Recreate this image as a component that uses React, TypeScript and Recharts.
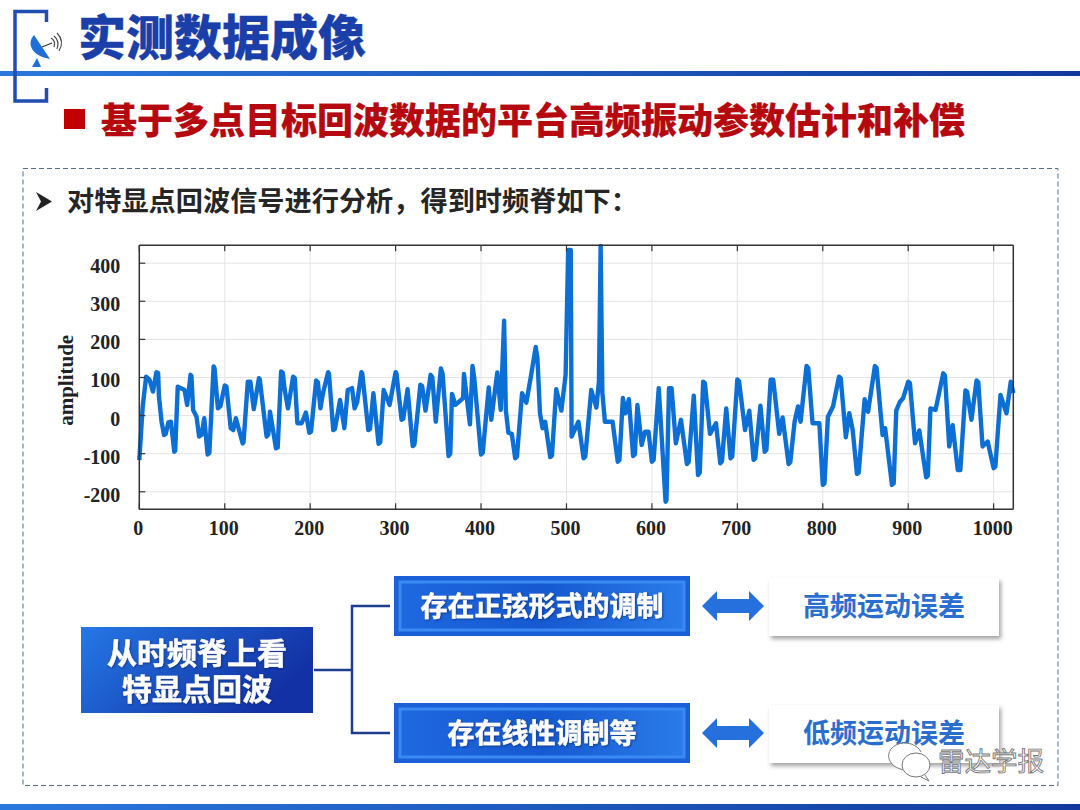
import React from 'react';
import { LineChart, Line, XAxis, YAxis, CartesianGrid } from 'recharts';

const sampleIndex = [0,4,8,12,16,20,22,23,26,29,31,34,37,41,42,45,53,56,60,61,63,67,70,73,76,80,82,87,88,92,95,100,102,107,110,113,121,122,127,130,134,140,141,149,151,153,160,162,166,168,170,174,180,182,185,190,195,199,201,207,209,212,215,221,222,227,229,235,240,244,249,252,255,260,261,268,270,274,280,282,286,293,300,301,307,309,314,320,322,329,331,335,341,343,347,353,355,362,364,366,370,379,380,387,390,392,400,402,409,412,419,423,427,429,432,436,440,442,448,453,458,464,466,469,472,475,481,483,488,494,499,502,505,506,514,520,522,529,535,538,540,542,545,554,560,562,566,569,573,578,580,583,588,592,596,600,602,608,616,617,620,623,628,634,641,643,649,654,656,660,662,668,675,680,682,687,692,694,700,702,709,714,719,721,727,732,734,739,742,749,753,760,762,767,771,774,781,783,788,796,800,802,806,812,819,821,827,831,835,840,842,849,853,861,863,870,873,881,883,886,890,894,900,902,908,913,921,923,926,932,941,943,948,952,958,961,967,969,974,980,982,987,993,1000,1002,1008,1015,1020,1023];
const amplitude = [-117,24,102,94,63,114,112,50,-15,-51,-48,-18,-16,-95,-92,76,67,28,107,104,15,-3,-55,-50,-7,-102,-98,129,125,19,25,79,76,-33,-38,-7,-73,-70,89,89,17,98,95,-55,-50,10,-86,-84,116,112,70,19,102,98,-20,-20,8,-45,-42,92,88,19,59,114,110,-38,-35,41,-33,67,72,19,35,114,110,-38,-35,59,-74,-70,67,28,114,110,-11,-8,69,-80,-76,81,78,13,107,100,-16,124,110,-106,-100,57,28,46,109,-23,130,100,-102,-98,74,-11,113,15,249,15,-45,-48,-112,-108,59,34,98,180,150,6,-33,-16,-109,-105,69,13,107,435,435,-55,-16,-112,-108,67,21,90,445,60,-16,-16,-121,-116,46,6,43,-106,-102,28,-77,-42,-42,-121,-116,72,-226,-222,72,72,-73,-11,-127,-122,52,-156,-150,89,85,-48,-20,-125,-120,19,-112,-108,95,90,-38,13,-116,-112,26,-95,-90,94,94,-48,-5,-127,-122,-16,24,-16,130,125,-20,-20,-182,-178,-3,24,102,98,-57,6,-38,-153,-150,43,10,130,125,-51,-33,-182,-178,13,35,46,89,85,-73,-39,-162,-158,19,15,111,105,-81,-25,-143,-143,66,62,-11,92,88,-81,-68,-138,-134,54,6,89,59];
const xTicks = [0,100,200,300,400,500,600,700,800,900,1000];
const yTicks = [-200,-100,0,100,200,300,400];

const chartData = sampleIndex.map((x, i) => ({ x, y: amplitude[i] }));

const titleText = '实测数据成像';
const headingText = '基于多点目标回波数据的平台高频振动参数估计和补偿';
const leadText = '对特显点回波信号进行分析，得到时频脊如下：';
const rootLines = ['从时频脊上看', '特显点回波'];
const branches = ['存在正弦形式的调制', '存在线性调制等'];
const results = ['高频运动误差', '低频运动误差'];
const watermark = '雷达学报';

const CJK = '"Noto Sans CJK SC", sans-serif';
const SERIF = '"Liberation Serif", serif';
const AXIS = '#333333';
const TICK_LEN = 6;

const BottomTick = (p: any) => (
  <g>
    <line x1={p.x} x2={p.x} y1={p.y} y2={p.y - TICK_LEN} stroke={AXIS} strokeWidth={1.2} />
    <text x={p.x - 1} y={p.y + 26} textAnchor="middle" fontFamily={SERIF} fontWeight={700} fontSize={20} fill="#222">{p.payload.value}</text>
  </g>
);
const TopTick = (p: any) => <line x1={p.x} x2={p.x} y1={p.y} y2={p.y + TICK_LEN} stroke={AXIS} strokeWidth={1.2} />;
const LeftTick = (p: any) => (
  <g>
    <line x1={p.x} x2={p.x + TICK_LEN} y1={p.y} y2={p.y} stroke={AXIS} strokeWidth={1.2} />
    <text x={p.x - 19} y={p.y + 10} textAnchor="end" fontFamily={SERIF} fontWeight={700} fontSize={20} fill="#222">{p.payload.value}</text>
  </g>
);
const RightTick = (p: any) => <line x1={p.x} x2={p.x - TICK_LEN} y1={p.y} y2={p.y} stroke={AXIS} strokeWidth={1.2} />;

const Arrow = ({ y }: { y: number }) => (
  <polygon fill="#2570dc" points={`702,${y} 717,${y - 15} 717,${y - 7} 749,${y - 7} 749,${y - 15} 764,${y} 749,${y + 15} 749,${y + 7} 717,${y + 7} 717,${y + 15}`} />
);

const Branch = ({ y, text, result }: { y: number; text: string; result: string }) => (
  <g>
    <rect x={394} y={y} width={296} height={60} fill="#1b5fd9" />
    <rect x={400} y={y + 6} width={284} height={48} fill="url(#branchFill)" stroke="#3a8af2" strokeWidth={3} />
    <text x={542} y={y + 40} textAnchor="middle" fontFamily={CJK} fontWeight={700} fontSize={27} fill="#fff" stroke="#fff" strokeWidth={0.4} filter="url(#softGlow)">{text}</text>
    <rect x={769} y={y + 2} width={230} height={58} fill="#fff" filter="url(#cardShadow)" />
    <text x={884} y={y + 40} textAnchor="middle" fontFamily={CJK} fontWeight={700} fontSize={27} fill="#2a6fcf">{result}</text>
    <Arrow y={y + 30} />
  </g>
);

export default function App() {
  return (
    <div style={{ position: 'absolute', left: 0, top: 0, width: 1080, height: 810, background: '#fff', overflow: 'hidden' }}>
      <svg width={1080} height={810} style={{ position: 'absolute', left: 0, top: 0 }}>
        <defs>
          <linearGradient id="barFill" x1="0" x2="1" y1="0" y2="0">
            <stop offset="0" stopColor="#2a78de" />
            <stop offset="1" stopColor="#123a9e" />
          </linearGradient>
          <linearGradient id="rootFill" x1="0" x2="1" y1="0" y2="0.4">
            <stop offset="0" stopColor="#2578e6" />
            <stop offset="1" stopColor="#1231a4" />
          </linearGradient>
          <linearGradient id="branchFill" x1="0" x2="1" y1="0" y2="0">
            <stop offset="0" stopColor="#1e68e0" />
            <stop offset="0.5" stopColor="#1659d0" />
            <stop offset="1" stopColor="#2a7bea" />
          </linearGradient>
          <filter id="cardShadow" x="-5%" y="-10%" width="112%" height="125%">
            <feDropShadow dx="2" dy="3" stdDeviation="2" floodColor="#555" floodOpacity="0.55" />
          </filter>
          <filter id="softGlow" x="-5%" y="-10%" width="110%" height="125%">
            <feDropShadow dx="1" dy="1" stdDeviation="0.8" floodColor="#0b2a70" floodOpacity="0.7" />
          </filter>
        </defs>

        <rect x={0} y={71} width={1080} height={5} fill="url(#barFill)" />
        <path d="M46.5 22 V11.5 H15 V101 H46.5 V88" fill="none" stroke="#1f4db0" strokeWidth={3.5} />
        <g>
          <path d="M34 35 C26 44 32 56 50 59 Z" fill="#1f6fd8" />
          <path d="M32 67 L37 58 L41 67 Z" fill="#1f6fd8" />
          <path d="M42 47 L52 43" stroke="#333" strokeWidth={1.2} />
          <path d="M51 38 Q56 41 54 47 M54 36 Q60 41 57 49 M57 33 Q65 41 59 51" fill="none" stroke="#444" strokeWidth={1.1} />
        </g>
        <text x={78} y={55} fontFamily={CJK} fontWeight={900} fontSize={48} fill="#1a3fa8" stroke="#1a3fa8" strokeWidth={0.3}>{titleText}</text>

        <rect x={64} y={109} width={21} height={20} fill="#c00000" />
        <text x={101} y={134} fontFamily={CJK} fontWeight={900} fontSize={36} fill="#b5090f" stroke="#b5090f" strokeWidth={0.2}>{headingText}</text>

        <rect x={23} y={168.5} width={1035} height={617} fill="none" stroke="#4d6f96" strokeWidth={1} strokeDasharray="5 3" />
        <path d="M36 192 L52 201.5 L36 211 L41 201.5 Z" fill="#222" />
        <text x={67} y={211} fontFamily={CJK} fontWeight={700} fontSize={27.2} fill="#262626">{leadText}</text>

        <path d="M314 670 H352 M390 606 H352 V733 H390" fill="none" stroke="#1f3d8f" strokeWidth={2.5} />
        <rect x={81} y={627} width={232} height={86} fill="url(#rootFill)" />
        <text x={197} y={664} textAnchor="middle" fontFamily={CJK} fontWeight={700} fontSize={30} fill="#fff" stroke="#fff" strokeWidth={0.4} filter="url(#softGlow)">{rootLines[0]}</text>
        <text x={197} y={700} textAnchor="middle" fontFamily={CJK} fontWeight={700} fontSize={30} fill="#fff" stroke="#fff" strokeWidth={0.4} filter="url(#softGlow)">{rootLines[1]}</text>

        <Branch y={576} text={branches[0]} result={results[0]} />
        <Branch y={703} text={branches[1]} result={results[1]} />

        <g fill="none" stroke="#777" strokeWidth={1}>
          <path d="M905 770 C888 768 883 752 896 745 C906 740 918 745 921 752" fill="#fff" />
          <ellipse cx={916} cy={765} rx={14} ry={12} fill="#fff" />
          <path d="M925 775 L929 781 L921 777" />
        </g>
        <text x={938} y={771} fontFamily={CJK} fontWeight={400} fontSize={26.5} fill="#fff" stroke="#777" strokeWidth={0.9}>{watermark}</text>

        <rect x={0} y={804} width={1080} height={6} fill="url(#barFill)" />
      </svg>

      <div style={{ position: 'absolute', left: 0, top: 0 }}>
        <LineChart
          width={1080}
          height={810}
          data={chartData}
          margin={{ top: 244.3, left: 79.3, right: 65.7, bottom: 270.7 }}
        >
          <CartesianGrid stroke="#e4e4e4" strokeWidth={1} xAxisId="bottom" yAxisId="left" />
          <XAxis xAxisId="bottom" dataKey="x" type="number" domain={[0, 1023]} ticks={xTicks} interval={0} height={30} tickLine={false} tickSize={0} tickMargin={0} tick={<BottomTick />} axisLine={{ stroke: AXIS, strokeWidth: 1.5 }} />
          <XAxis xAxisId="top" orientation="top" dataKey="x" type="number" domain={[0, 1023]} ticks={xTicks} interval={0} height={1} tickLine={false} tickSize={0} tickMargin={0} tick={<TopTick />} axisLine={{ stroke: AXIS, strokeWidth: 1.5 }} />
          <YAxis yAxisId="left" type="number" domain={[-246, 447]} ticks={yTicks} interval={0} width={60} tickLine={false} tickSize={0} tickMargin={0} tick={<LeftTick />} axisLine={{ stroke: AXIS, strokeWidth: 1.5 }}
            label={{ value: 'amplitude', angle: -90, position: 'insideLeft', dx: -19, dy: 3, style: { fontFamily: SERIF, fontWeight: 700, fontSize: 21, fill: '#222', textAnchor: 'middle' } }} />
          <YAxis yAxisId="right" orientation="right" type="number" domain={[-246, 447]} ticks={yTicks} interval={0} width={1} tickLine={false} tickSize={0} tickMargin={0} tick={<RightTick />} axisLine={{ stroke: AXIS, strokeWidth: 1.5 }} />
          <Line xAxisId="bottom" yAxisId="left" dataKey="y" type="linear" dot={false} stroke="#0c6fd6" strokeWidth={4.4} strokeLinejoin="round" isAnimationActive={false} />
        </LineChart>
      </div>
    </div>
  );
}
